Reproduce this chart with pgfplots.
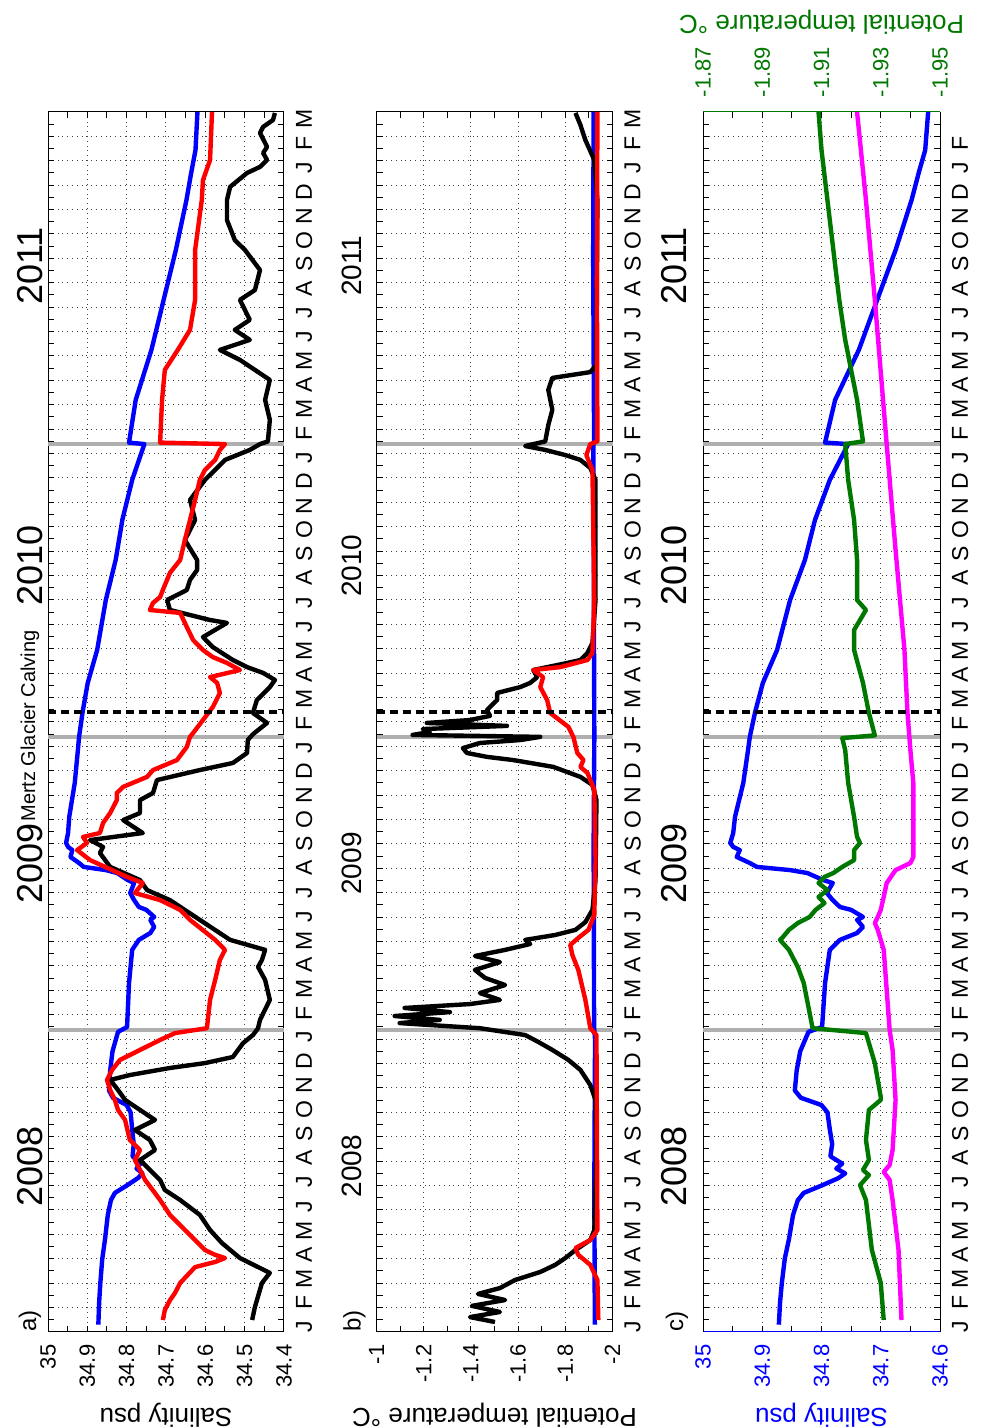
\documentclass[border=0pt]{standalone}
\usepackage{pgfplots}
\usepackage{pgfplotstable}
\pgfplotsset{compat=1.18}
\usepackage{fontspec}
\setmainfont{Liberation Sans}

\definecolor{dgreen}{RGB}{0,120,0}
\definecolor{mag}{RGB}{255,0,255}
\definecolor{lgray}{RGB}{175,175,175}

% salinity, deep (panels a and c)
\pgfplotstableread{
v t
34.872 0.3
34.870 1.2
34.867 2.0
34.862 3.0
34.855 3.8
34.848 4.8
34.840 5.4
34.830 5.7
34.800 6.0
34.772 6.3
34.760 6.5
34.775 6.7
34.765 6.9
34.785 7.2
34.782 7.7
34.786 8.3
34.790 9.0
34.800 9.3
34.835 9.6
34.845 9.9
34.842 10.7
34.836 11.5
34.822 12.3
34.799 12.5
34.794 14.3
34.786 15.66
34.769 16.07
34.740 16.35
34.730 16.60
34.740 16.89
34.730 17.01
34.750 17.30
34.769 17.42
34.781 17.70
34.791 17.99
34.781 18.40
34.797 18.52
34.824 18.81
34.853 18.93
34.909 19.06
34.921 19.22
34.943 19.47
34.938 19.75
34.949 19.88
34.954 20.04
34.949 20.45
34.946 21.11
34.932 22.50
34.924 23.85
34.921 24.39
34.912 25.41
34.899 26.60
34.875 27.95
34.853 30.00
34.828 31.64
34.811 33.28
34.786 34.92
34.755 36.39
34.794 36.45
34.777 38.20
34.737 40.25
34.706 42.30
34.675 44.34
34.648 46.39
34.636 47.5
34.625 48.44
34.620 50.0
}\blueS

\pgfplotstableread{
v t
34.708 0.49
34.703 0.90
34.690 1.3
34.677 1.60
34.664 2.01
34.626 2.66
34.575 2.87
34.550 3.03
34.575 3.16
34.601 3.36
34.626 3.77
34.652 4.18
34.690 4.80
34.715 5.41
34.753 6.23
34.779 7.05
34.766 7.46
34.792 7.87
34.804 8.69
34.822 9.10
34.830 9.51
34.842 9.92
34.850 10.33
34.837 10.74
34.817 11.15
34.766 11.56
34.715 11.97
34.677 12.25
34.596 12.45
34.588 13.61
34.575 14.43
34.563 15.25
34.550 15.66
34.575 16.07
34.639 16.89
34.664 17.30
34.715 17.70
34.779 17.99
34.759 18.40
34.799 18.65
34.893 19.34
34.926 19.75
34.901 20.04
34.911 20.29
34.868 20.45
34.860 20.86
34.842 21.27
34.825 21.80
34.825 22.09
34.809 22.34
34.748 22.75
34.733 23.03
34.672 23.44
34.647 23.98
34.639 24.39
34.631 24.55
34.606 25.08
34.581 25.61
34.563 26.19
34.570 26.60
34.588 26.84
34.512 27.13
34.545 27.42
34.581 27.66
34.606 27.95
34.631 28.36
34.647 28.89
34.664 29.47
34.741 29.59
34.733 29.88
34.715 30.12
34.708 30.41
34.690 31.11
34.664 31.64
34.652 32.46
34.639 33.28
34.626 34.10
34.614 34.92
34.601 35.33
34.575 35.74
34.563 36.15
34.550 36.39
34.715 36.45
34.710 38.20
34.703 39.43
34.670 40.25
34.639 41.07
34.626 42.30
34.626 44.34
34.609 46.39
34.606 47.21
34.588 48.03
34.583 50.0
}\redS

\pgfplotstableread{
v t
34.481 0.49
34.474 1.02
34.456 2.01
34.436 2.42
34.487 2.83
34.512 3.03
34.558 3.65
34.588 4.18
34.614 4.80
34.664 5.41
34.703 5.82
34.715 6.23
34.741 6.64
34.766 7.05
34.728 7.46
34.741 7.87
34.779 8.28
34.728 8.69
34.766 9.10
34.804 9.51
34.822 9.92
34.842 10.33
34.792 10.53
34.690 10.82
34.601 11.02
34.530 11.27
34.504 11.84
34.479 12.17
34.466 12.45
34.461 12.79
34.436 13.61
34.448 14.43
34.466 14.96
34.456 15.25
34.448 15.66
34.537 16.07
34.614 16.89
34.690 17.70
34.748 18.11
34.766 18.52
34.842 19.06
34.868 19.63
34.860 19.88
34.893 20.16
34.759 20.45
34.809 20.98
34.766 21.27
34.766 21.80
34.733 22.09
34.723 22.62
34.614 23.03
34.530 23.32
34.494 23.73
34.492 24.26
34.479 24.50
34.443 24.96
34.479 25.37
34.469 25.90
34.436 26.43
34.423 26.72
34.453 27.01
34.494 27.25
34.530 27.54
34.581 28.07
34.606 28.48
34.545 29.06
34.588 29.18
34.690 29.59
34.697 30.00
34.647 30.41
34.639 30.82
34.621 31.23
34.621 31.64
34.652 32.46
34.626 33.28
34.639 34.10
34.601 34.92
34.550 35.74
34.487 36.15
34.461 36.39
34.441 36.50
34.436 37.38
34.448 38.20
34.436 39.02
34.512 39.84
34.563 40.25
34.487 40.66
34.525 41.07
34.487 41.48
34.512 42.30
34.474 42.70
34.461 43.52
34.499 44.34
34.525 44.75
34.545 45.57
34.545 46.39
34.537 46.93
34.494 47.50
34.461 47.75
34.443 48.03
34.453 48.32
34.443 48.57
34.461 49.14
34.453 49.39
34.428 49.67
34.423 49.96
}\blackS

\pgfplotstableread{
v t
-1.925 0.3
-1.923 6
-1.926 12
-1.922 12.5
-1.920 20
-1.923 24.4
-1.921 30
-1.919 36.4
-1.922 36.5
-1.918 44
-1.920 50
}\blueT

\pgfplotstableread{
v t
-1.940 0.49
-1.936 2.13
-1.906 2.75
-1.855 3.16
-1.843 3.44
-1.906 3.77
-1.936 4.18
-1.934 8
-1.932 12.17
-1.906 12.45
-1.885 13.61
-1.855 14.84
-1.830 15.45
-1.821 15.86
-1.855 16.15
-1.898 16.48
-1.923 17.09
-1.928 19.34
-1.923 22.21
-1.894 22.91
-1.864 23.16
-1.877 23.44
-1.851 23.73
-1.834 24.39
-1.813 24.80
-1.736 25.37
-1.723 25.90
-1.694 26.43
-1.706 26.84
-1.664 27.13
-1.779 27.25
-1.894 27.54
-1.915 27.83
-1.923 30.00
-1.915 35.33
-1.889 35.94
-1.906 36.39
-1.936 36.50
-1.934 43
-1.936 50
}\redT

\pgfplotstableread{
v t
-1.502 0.41
-1.396 0.61
-1.523 0.82
-1.404 1.07
-1.545 1.31
-1.430 1.56
-1.523 1.80
-1.587 2.13
-1.694 2.46
-1.757 2.75
-1.800 3.03
-1.843 3.36
-1.906 3.77
-1.923 4.18
-1.932 7.46
-1.928 9.51
-1.906 10.12
-1.864 10.74
-1.813 11.15
-1.745 11.56
-1.685 11.89
-1.630 12.17
-1.438 12.45
-1.098 12.66
-1.268 12.79
-1.077 12.95
-1.311 13.11
-1.119 13.28
-1.396 13.44
-1.523 13.61
-1.438 13.89
-1.545 14.22
-1.460 14.51
-1.417 14.84
-1.523 15.16
-1.417 15.41
-1.545 15.66
-1.651 15.90
-1.630 16.07
-1.757 16.27
-1.843 16.48
-1.885 16.80
-1.915 17.30
-1.928 18.52
-1.932 21.80
-1.915 22.42
-1.864 22.75
-1.749 23.16
-1.579 23.44
-1.468 23.57
-1.383 23.73
-1.366 23.93
-1.438 24.14
-1.609 24.26
-1.694 24.39
-1.153 24.47
-1.226 24.59
-1.196 24.71
-1.553 24.84
-1.213 24.96
-1.396 25.08
-1.481 25.25
-1.468 25.49
-1.511 25.90
-1.511 26.19
-1.609 26.43
-1.651 26.60
-1.681 26.84
-1.664 27.13
-1.809 27.42
-1.864 27.54
-1.894 27.83
-1.915 28.24
-1.928 30.00
-1.928 34.92
-1.906 35.41
-1.864 35.74
-1.800 35.94
-1.715 36.15
-1.630 36.31
-1.715 36.50
-1.728 37.17
-1.745 37.79
-1.728 38.61
-1.745 39.10
-1.906 39.34
-1.932 39.63
-1.936 46.39
-1.923 48.03
-1.885 48.85
-1.864 49.47
-1.843 49.96
}\blackT

\pgfplotstableread{
v t
-1.931 0.49
-1.930 2.01
-1.927 3.36
-1.925 5.41
-1.923 6.02
-1.926 6.43
-1.924 6.64
-1.926 7.05
-1.925 7.87
-1.926 9.10
-1.930 9.51
-1.930 9.63
-1.928 11.02
-1.925 12.25
-1.907 12.45
-1.904 14.30
-1.902 14.96
-1.899 15.66
-1.896 16.07
-1.897 16.19
-1.899 16.48
-1.902 16.76
-1.906 17.01
-1.908 17.30
-1.911 17.58
-1.909 17.83
-1.912 18.11
-1.909 18.40
-1.911 18.65
-1.914 18.81
-1.917 19.06
-1.921 19.34
-1.921 19.75
-1.923 20.04
-1.922 20.29
-1.921 21.11
-1.919 22.50
-1.918 23.85
-1.917 24.34
-1.928 24.45
-1.926 25.37
-1.924 26.60
-1.921 27.95
-1.921 28.77
-1.925 29.59
-1.922 30.00
-1.922 31.64
-1.921 33.28
-1.919 34.92
-1.918 36.39
-1.924 36.50
-1.922 38.20
-1.920 39.43
-1.918 40.66
-1.916 42.30
-1.914 44.34
-1.912 46.39
-1.910 48.44
-1.909 50.0
}\greenT

\pgfplotstableread{
v t
-1.937 0.49
-1.936 3.36
-1.934 5.41
-1.933 6.23
-1.931 6.56
-1.933 6.84
-1.934 7.46
-1.935 9.51
-1.934 11.56
-1.933 12.38
-1.931 15.66
-1.929 16.48
-1.928 16.76
-1.929 17.01
-1.930 17.30
-1.931 17.83
-1.932 18.40
-1.935 18.93
-1.940 19.22
-1.941 19.47
-1.941 21.11
-1.941 22.50
-1.940 23.85
-1.939 25.41
-1.938 27.95
-1.935 32.05
-1.932 36.39
-1.928 42.30
-1.925 46.39
-1.922 50.0
}\magT

\pgfplotsset{
  panel/.style={
    scale only axis, width=118pt, height=610pt, anchor=center,
    ymin=0, ymax=50, x dir=reverse,
    ytick={1,2,...,49}, yticklabels={},
    minor ytick={0.5,1.5,...,49.5},
    minor x tick num=1,
    xmajorgrids=true, ymajorgrids=true,
    grid style={dotted, black!75, line width=0.5pt},
    tick align=inside, major tick length=3pt, minor tick length=3pt,
    xticklabel pos=lower, xtick pos=both,
    yticklabel pos=right, ytick pos=both,
    xticklabel style={rotate=90, anchor=east, font=\fontsize{11}{12}\selectfont},
    xticklabel shift=2.8pt,
    yticklabel style={rotate=90, anchor=north, font=\fontsize{11.5}{12}\selectfont},
    yticklabel shift=2.5pt,
    extra y tick style={major tick length=0pt, grid=none},
    axis line style={line width=0.5pt},
    every tick/.style={black, line width=0.5pt},
    clip=false,
    xlabel style={at={(axis description cs:0.5,-0.068)}, anchor=center, rotate=180, font=\fontsize{13}{14}\selectfont},
    /pgf/number format/assume math mode=true,
  },
  monthsA/.style={extra y ticks={0.2,1.19,...,49.71},
    extra y tick labels={J,F,M,A,M,J,J,A,S,O,N,D,J,F,M,A,M,J,J,A,S,O,N,D,J,F,M,A,M,J,J,A,S,O,N,D,J,F,M,A,M,J,J,A,S,O,N,D,J,F,M}},
  monthsC/.style={extra y ticks={0.2,1.19,...,48.8},
    extra y tick labels={J,F,M,A,M,J,J,A,S,O,N,D,J,F,M,A,M,J,J,A,S,O,N,D,J,F,M,A,M,J,J,A,S,O,N,D,J,F,M,A,M,J,J,A,S,O,N,D,J,F}},
  dline/.style={line width=2.2pt, line join=round},
}

\begin{document}
\begin{tikzpicture}
\useasboundingbox (0,0) rectangle (490.5pt,713.5pt);

% ---------- panel a ----------
\begin{axis}[panel, at={(83pt,352.5pt)}, xmin=34.4, xmax=35,
  xtick={34.4,34.5,34.6,34.7,34.8,34.9,35},
  xticklabels={34.4,34.5,34.6,34.7,34.8,34.9,35},
  xlabel={Salinity psu}, monthsA]
\addplot[lgray, line width=2pt] coordinates {(35,12.38) (34.4,12.38)};
\addplot[lgray, line width=2pt] coordinates {(35,24.39) (34.4,24.39)};
\addplot[lgray, line width=2pt] coordinates {(35,36.39) (34.4,36.39)};
\addplot[blue, dline] table[x=v,y=t] {\blueS};
\addplot[black, dline] table[x=v,y=t] {\blackS};
\addplot[red, dline] table[x=v,y=t] {\redS};
\addplot[black, line width=2pt, dash pattern=on 4pt off 2.5pt] coordinates {(35,25.41) (34.4,25.41)};
\node[rotate=90, font=\fontsize{18}{18}\selectfont] at ([xshift=-9pt]axis cs:35,6.8) {2008};
\node[rotate=90, font=\fontsize{18}{18}\selectfont] at ([xshift=-9pt]axis cs:35,19.2) {2009};
\node[rotate=90, font=\fontsize{18}{18}\selectfont] at ([xshift=-9pt]axis cs:35,31.4) {2010};
\node[rotate=90, font=\fontsize{18}{18}\selectfont] at ([xshift=-9pt]axis cs:35,43.7) {2011};
\node[rotate=90, anchor=west, font=\fontsize{10}{10}\selectfont, inner sep=0pt] at ([xshift=-9pt]axis cs:35,20.9) {Mertz Glacier Calving};
\node[rotate=90, anchor=west, font=\fontsize{12}{12}\selectfont, inner sep=0pt] at ([xshift=-9pt]axis cs:35,0) {a)};
\end{axis}

% ---------- panel b ----------
\begin{axis}[panel, at={(247.25pt,352.5pt)}, xmin=-2, xmax=-1,
  xtick={-2,-1.8,-1.6,-1.4,-1.2,-1},
  xticklabels={-2,-1.8,-1.6,-1.4,-1.2,-1},
  xlabel={Potential temperature °C}, monthsA]
\addplot[lgray, line width=2pt] coordinates {(-1,12.38) (-2,12.38)};
\addplot[lgray, line width=2pt] coordinates {(-1,24.39) (-2,24.39)};
\addplot[lgray, line width=2pt] coordinates {(-1,36.39) (-2,36.39)};
\addplot[blue, dline] table[x=v,y=t] {\blueT};
\addplot[black, dline] table[x=v,y=t] {\blackT};
\addplot[red, dline] table[x=v,y=t] {\redT};
\addplot[black, line width=2pt, dash pattern=on 4pt off 2.5pt] coordinates {(-1,25.41) (-2,25.41)};
\node[rotate=90, font=\fontsize{14}{14}\selectfont] at ([xshift=-12.5pt]axis cs:-1,6.8) {2008};
\node[rotate=90, font=\fontsize{14}{14}\selectfont] at ([xshift=-12.5pt]axis cs:-1,19.2) {2009};
\node[rotate=90, font=\fontsize{14}{14}\selectfont] at ([xshift=-12.5pt]axis cs:-1,31.4) {2010};
\node[rotate=90, font=\fontsize{14}{14}\selectfont] at ([xshift=-12.5pt]axis cs:-1,43.7) {2011};
\node[rotate=90, anchor=west, font=\fontsize{12}{12}\selectfont, inner sep=0pt] at ([xshift=-11pt]axis cs:-1,0) {b)};
\end{axis}

% ---------- panel c (salinity) ----------
\begin{axis}[panel, at={(410.75pt,352.5pt)}, width=118.5pt, xmin=34.6, xmax=35,
  xtick={34.6,34.7,34.8,34.9,35},
  xticklabels={34.6,34.7,34.8,34.9,35},
  xticklabel style={blue},
  separate axis lines, x axis line style={blue},
  xlabel={Salinity psu}, xlabel style={blue}, monthsC]
\addplot[lgray, line width=2pt] coordinates {(35,12.38) (34.6,12.38)};
\addplot[lgray, line width=2pt] coordinates {(35,24.39) (34.6,24.39)};
\addplot[lgray, line width=2pt] coordinates {(35,36.39) (34.6,36.39)};
\addplot[blue, dline] table[x=v,y=t] {\blueS};
\node[rotate=90, font=\fontsize{18}{18}\selectfont] at ([xshift=-14.5pt]axis cs:35,6.8) {2008};
\node[rotate=90, font=\fontsize{18}{18}\selectfont] at ([xshift=-14.5pt]axis cs:35,19.2) {2009};
\node[rotate=90, font=\fontsize{18}{18}\selectfont] at ([xshift=-14.5pt]axis cs:35,31.4) {2010};
\node[rotate=90, font=\fontsize{18}{18}\selectfont] at ([xshift=-14.5pt]axis cs:35,43.7) {2011};
\node[rotate=90, anchor=west, font=\fontsize{12}{12}\selectfont, inner sep=0pt] at ([xshift=-13pt]axis cs:35,0) {c)};
\end{axis}

% ---------- panel c (temperature) ----------
\begin{axis}[scale only axis, width=118.5pt, height=610pt, anchor=center,
  at={(410.75pt,352.5pt)}, ymin=0, ymax=50,
  xmin=-1.95, xmax=-1.87, x dir=reverse,
  axis x line*=top, axis y line=none,
  xtick={-1.95,-1.93,-1.91,-1.89,-1.87},
  xticklabels={-1.95,-1.93,-1.91,-1.89,-1.87},
  minor x tick num=1, tick align=inside,
  major tick length=3pt, minor tick length=3pt,
  x axis line style={dgreen, line width=0.5pt},
  every tick/.style={black, line width=0.5pt},
  xticklabel style={rotate=90, anchor=west, text=dgreen, font=\fontsize{11}{12}\selectfont},
  xticklabel shift=3.8pt,
  xlabel={Potential temperature °C},
  xlabel style={at={(axis description cs:0.5,1.0738)}, anchor=center, rotate=180, text=dgreen, font=\fontsize{13}{14}\selectfont},
  clip=false]
\addplot[dgreen, dline] table[x=v,y=t] {\greenT};
\addplot[mag, dline] table[x=v,y=t] {\magT};
\addplot[black, line width=2pt, dash pattern=on 4pt off 2.5pt] coordinates {(-1.87,25.41) (-1.95,25.41)};
\end{axis}
\end{tikzpicture}
\end{document}
